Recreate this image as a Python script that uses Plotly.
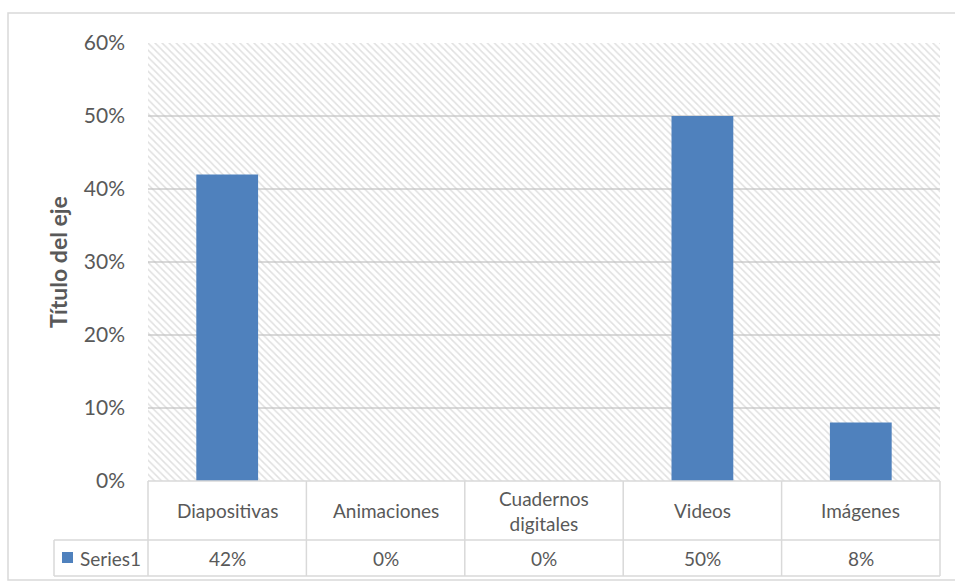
import plotly.graph_objects as go

# Data
categories = ["Diapositivas", "Animaciones", "Cuadernos digitales", "Videos", "Imágenes"]
category_labels = ["Diapositivas", "Animaciones", "Cuadernos<br>digitales", "Videos", "Imágenes"]
series_name = "Series1"
values = [0.42, 0.0, 0.0, 0.50, 0.08]
y_ticks = [0.0, 0.1, 0.2, 0.3, 0.4, 0.5, 0.6]
axis_title = "Título del eje"

BAR_COLOR = "#4f81bd"
LINE_COLOR = "#d9d9d9"
TEXT_COLOR = "#595959"
FONT = "Lato, 'Open Sans', sans-serif"

W, H = 955, 582
L, R, T, B = 148, 15, 43, 101
plot_w = W - L - R
plot_h = H - T - B


def px_x(p):
    return (p - L) / plot_w


def px_y(p):
    return (H - B - p) / plot_h


y_max = max(y_ticks)
n = len(categories)

fig = go.Figure()

# Hatched plot-area background
fig.add_trace(go.Bar(
    x=categories, y=[y_max] * n, width=1.0,
    marker=dict(color="rgba(0,0,0,0)", line=dict(width=0),
                pattern=dict(shape="\\", fgcolor="#c2c2c2", bgcolor="rgba(0,0,0,0)",
                             size=5, solidity=0.3)),
    hoverinfo="skip", showlegend=False,
))

# Data bars
fig.add_trace(go.Bar(
    x=categories, y=values, name=series_name, width=0.39,
    marker=dict(color=BAR_COLOR, line=dict(width=0)),
    showlegend=False,
))

shapes = []
annotations = []

# Outer chart border
shapes.append(dict(type="rect", xref="paper", yref="paper",
                   x0=px_x(8), x1=px_x(962), y0=px_y(13), y1=px_y(580),
                   line=dict(color=LINE_COLOR, width=1.5), fillcolor="rgba(0,0,0,0)",
                   layer="below"))

# Data table grid
row1 = px_y(540)
row2 = px_y(576)
legend_left = px_x(54)
line = dict(color=LINE_COLOR, width=1.5)
shapes.append(dict(type="line", xref="paper", yref="paper", x0=0, x1=1, y0=0, y1=0, line=line))
shapes.append(dict(type="line", xref="paper", yref="paper", x0=legend_left, x1=1, y0=row1, y1=row1, line=line))
shapes.append(dict(type="line", xref="paper", yref="paper", x0=legend_left, x1=1, y0=row2, y1=row2, line=line))
shapes.append(dict(type="line", xref="paper", yref="paper", x0=legend_left, x1=legend_left, y0=row1, y1=row2, line=line))
for i in range(n + 1):
    xp = i / n
    shapes.append(dict(type="line", xref="paper", yref="paper", x0=xp, x1=xp, y0=0, y1=row2, line=line))

# Legend key in the table
shapes.append(dict(type="rect", xref="paper", yref="paper",
                   x0=px_x(62), x1=px_x(73), y0=px_y(563), y1=px_y(552),
                   fillcolor=BAR_COLOR, line=dict(width=0)))
annotations.append(dict(text=series_name, xref="paper", yref="paper",
                        x=px_x(78), y=(row1 + row2) / 2, xanchor="left", yanchor="middle",
                        showarrow=False, font=dict(size=19, color=TEXT_COLOR, family=FONT)))

# Category header row and value row
for cat, lab, v in zip(categories, category_labels, values):
    annotations.append(dict(text=lab, xref="x", yref="paper", x=cat, y=row1 / 2,
                            xanchor="center", yanchor="middle", showarrow=False,
                            font=dict(size=19, color=TEXT_COLOR, family=FONT)))
    annotations.append(dict(text=f"{v:.0%}", xref="x", yref="paper", x=cat, y=(row1 + row2) / 2,
                            xanchor="center", yanchor="middle", showarrow=False,
                            font=dict(size=19, color=TEXT_COLOR, family=FONT)))

# Y axis title
annotations.append(dict(text=f"<b>{axis_title}</b>", xref="paper", yref="paper",
                        x=px_x(58), y=0.5, textangle=-90, xanchor="center", yanchor="middle",
                        showarrow=False, font=dict(size=23, color=TEXT_COLOR, family=FONT)))

fig.update_layout(
    width=W, height=H,
    margin=dict(l=L, r=R, t=T, b=B),
    paper_bgcolor="white", plot_bgcolor="white",
    barmode="overlay",
    shapes=shapes, annotations=annotations,
    font=dict(family=FONT, color=TEXT_COLOR),
    xaxis=dict(range=[-0.5, n - 0.5], showticklabels=False, showgrid=False,
               zeroline=False, showline=False, fixedrange=True),
    yaxis=dict(range=[0, y_max], tickvals=y_ticks, tickformat=".0%",
               showgrid=True, gridcolor=LINE_COLOR, gridwidth=1.5,
               zeroline=False, showline=False, ticks="", ticklabelstandoff=22,
               tickfont=dict(size=21, color=TEXT_COLOR, family=FONT), fixedrange=True),
)

fig.write_html("out.html")
